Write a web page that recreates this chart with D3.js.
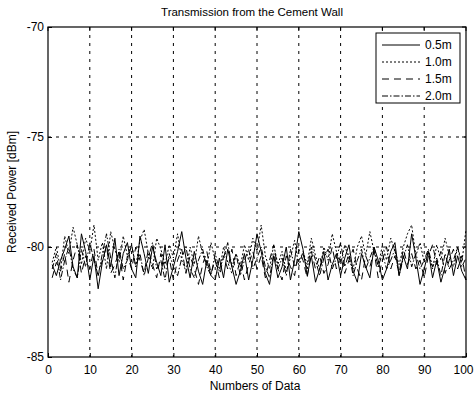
<!DOCTYPE html>
<html>
<head>
<meta charset="utf-8">
<script src="https://cdn.jsdelivr.net/npm/d3@7/dist/d3.min.js"></script>
<style>
  html, body { margin: 0; padding: 0; background: #fff; }
  svg { display: block; font-family: "Liberation Sans", Arial, sans-serif; }
</style>
</head>
<body>
<svg id="chart" width="474" height="396"></svg>
<script>
// Received power measurements behind the cement wall, one series per distance
const seriesNames = ["0.5m", "1.0m", "1.5m", "2.0m"];
const dashes = [null, "2,2", "7,5", "6,2,1.5,2"];

const p05 = [
  -80.8,-81.3,-80.6,-80.1,-79.5,-80.9,-81.4,-79.4,-80.2,-81.5,
  -80.4,-81.9,-80.7,-79.9,-80.9,-79.6,-81.3,-80.3,-79.8,-81.0,
  -81.4,-79.5,-80.3,-81.2,-80.0,-80.7,-81.3,-79.9,-81.6,-80.9,
  -80.2,-79.3,-80.5,-81.4,-80.2,-81.1,-81.7,-80.6,-81.3,-81.5,
  -80.5,-81.4,-80.1,-80.9,-81.7,-81.1,-80.3,-81.5,-80.6,-79.4,
  -80.2,-81.2,-81.7,-80.4,-81.4,-80.9,-80.0,-81.5,-80.6,-79.3,
  -80.1,-81.3,-80.4,-81.6,-81.0,-80.2,-81.5,-80.8,-80.3,-81.3,
  -80.5,-79.9,-81.1,-81.6,-80.3,-80.9,-81.4,-80.0,-80.6,-81.5,
  -81.0,-80.2,-79.8,-81.3,-80.4,-81.0,-79.4,-80.5,-81.7,-81.0,
  -80.2,-81.4,-80.6,-81.6,-80.9,-80.1,-81.3,-80.4,-81.1,-81.5
];
const p10 = [
  -80.7,-80.0,-81.0,-79.5,-80.3,-79.1,-79.9,-80.8,-79.6,-80.2,
  -79.0,-80.6,-79.8,-81.0,-79.3,-80.1,-80.7,-79.5,-80.4,-79.9,
  -80.9,-79.7,-79.2,-80.3,-81.0,-79.6,-80.1,-80.8,-79.9,-80.5,
  -79.4,-80.6,-81.1,-80.0,-80.8,-79.5,-80.3,-80.9,-79.8,-80.6,
  -81.1,-80.0,-80.7,-81.2,-80.3,-80.9,-79.9,-80.6,-79.6,-80.2,
  -79.0,-80.4,-81.0,-79.9,-80.8,-80.2,-81.1,-80.5,-79.7,-80.9,
  -80.2,-80.8,-79.6,-80.4,-81.0,-80.0,-80.6,-79.4,-80.2,-80.8,
  -79.9,-80.6,-81.0,-80.0,-79.5,-80.4,-79.3,-80.2,-80.9,-79.9,
  -80.6,-79.6,-80.2,-80.8,-80.0,-79.4,-79.0,-80.4,-79.8,-80.7,
  -80.2,-81.0,-79.9,-80.6,-79.6,-80.4,-80.9,-80.0,-80.7,-79.2
];
const p15 = [
  -81.4,-80.7,-81.1,-80.3,-81.6,-80.6,-79.9,-81.2,-80.4,-81.0,
  -80.1,-81.3,-80.6,-80.0,-81.2,-80.8,-80.2,-81.5,-80.4,-81.0,
  -80.0,-80.6,-81.2,-80.1,-80.8,-81.4,-80.3,-81.0,-80.5,-81.5,
  -80.6,-80.1,-81.2,-80.4,-81.0,-81.7,-80.8,-80.2,-81.2,-80.6,
  -81.4,-80.4,-81.0,-80.1,-81.3,-80.6,-81.5,-80.8,-80.2,-81.0,
  -80.4,-81.4,-80.6,-79.9,-81.0,-81.5,-80.4,-80.9,-81.3,-80.1,
  -80.6,-81.4,-80.2,-81.0,-80.4,-81.2,-80.8,-80.0,-81.0,-80.4,
  -81.2,-80.6,-80.1,-81.0,-81.5,-80.4,-80.9,-80.2,-81.4,-80.6,
  -80.0,-81.0,-80.4,-81.2,-80.1,-80.8,-80.3,-81.0,-80.6,-81.4,
  -80.4,-79.9,-80.8,-80.2,-81.2,-80.6,-80.1,-81.0,-80.4,-81.5
];
const p20 = [
  -81.0,-80.3,-81.5,-80.6,-80.0,-81.0,-81.4,-80.1,-80.9,-79.8,
  -80.6,-81.3,-80.3,-79.4,-80.5,-81.4,-80.1,-81.0,-80.6,-79.9,
  -80.9,-80.3,-81.3,-80.5,-79.8,-81.0,-80.6,-81.5,-80.3,-80.9,
  -81.3,-80.5,-80.0,-81.0,-81.4,-80.6,-80.1,-80.9,-81.3,-80.3,
  -81.0,-80.5,-79.8,-80.9,-80.3,-81.3,-80.6,-80.1,-81.0,-80.5,
  -80.0,-80.9,-81.4,-80.3,-81.0,-80.5,-81.3,-80.1,-80.9,-80.6,
  -80.3,-81.0,-80.0,-80.6,-81.3,-80.5,-80.1,-81.0,-80.5,-79.8,
  -80.9,-80.3,-81.3,-80.6,-80.1,-81.0,-80.5,-80.0,-80.9,-80.3,
  -81.0,-80.6,-80.1,-81.3,-80.5,-79.9,-80.9,-80.3,-81.0,-80.6,
  -80.1,-80.9,-80.5,-81.3,-80.3,-81.0,-80.6,-80.0,-80.9,-80.5
];
const xTicks = [0, 10, 20, 30, 40, 50, 60, 70, 80, 90, 100];
const yTicks = [-85, -80, -75, -70];

const allSeries = [p05, p10, p15, p20];

const margin = { left: 48, right: 8, top: 27, bottom: 39 };
const W = 474, H = 396;
const iw = W - margin.left - margin.right;
const ih = H - margin.top - margin.bottom;

const svg = d3.select("#chart");
const g = svg.append("g").attr("transform", `translate(${margin.left},${margin.top})`);

const x = d3.scaleLinear().domain([0, 100]).range([0, iw]);
const y = d3.scaleLinear().domain([-85, -70]).range([ih, 0]);

// dashed grid at every inner tick
g.append("g").selectAll("line").data(xTicks.slice(1, -1)).join("line")
  .attr("x1", d => x(d)).attr("x2", d => x(d)).attr("y1", 0).attr("y2", ih)
  .attr("stroke", "#000").attr("stroke-width", 1).attr("stroke-dasharray", "3,5");
g.append("g").selectAll("line").data(yTicks.slice(1, -1)).join("line")
  .attr("x1", 0).attr("x2", iw).attr("y1", d => y(d)).attr("y2", d => y(d))
  .attr("stroke", "#000").attr("stroke-width", 1).attr("stroke-dasharray", "3,5");

// series lines
const line = d3.line().x((d, i) => x(i + 1)).y(d => y(d));
allSeries.forEach((s, k) => {
  g.append("path").datum(s)
    .attr("d", line)
    .attr("fill", "none")
    .attr("stroke", "#000")
    .attr("stroke-width", 1)
    .attr("stroke-dasharray", dashes[k]);
});

// frame
g.append("rect").attr("width", iw).attr("height", ih)
  .attr("fill", "none").attr("stroke", "#000").attr("stroke-width", 1.2);

// axes with inward ticks; hyphen minus signs
const xAxis = d3.axisBottom(x).tickValues(xTicks).tickSizeInner(-4).tickSizeOuter(0).tickPadding(8);
const yAxis = d3.axisLeft(y).tickValues(yTicks).tickSizeInner(-4).tickSizeOuter(0).tickPadding(8)
  .tickFormat(d => String(d));
const gx = g.append("g").attr("transform", `translate(0,${ih})`).call(xAxis);
const gy = g.append("g").call(yAxis);
[gx, gy].forEach(a => {
  a.select(".domain").remove();
  a.selectAll("text").attr("font-size", 12).attr("fill", "#000")
    .attr("font-family", "Liberation Sans, Arial, sans-serif");
});
gy.selectAll("text").attr("dx", 4);
gx.selectAll("text").filter(d => d === 100).attr("dx", -3);
// top and right ticks
g.append("g").selectAll("line").data(xTicks).join("line")
  .attr("x1", d => x(d)).attr("x2", d => x(d)).attr("y1", 0).attr("y2", 4).attr("stroke", "#000");
g.append("g").selectAll("line").data(yTicks).join("line")
  .attr("x1", iw).attr("x2", iw - 4).attr("y1", d => y(d)).attr("y2", d => y(d)).attr("stroke", "#000");

// titles
svg.append("text").attr("x", 252).attr("y", 16)
  .attr("text-anchor", "middle").attr("font-size", 11.5).attr("font-weight", 500)
  .text("Transmission from the Cement Wall");
svg.append("text").attr("x", 255).attr("y", 390)
  .attr("text-anchor", "middle").attr("font-size", 12).text("Numbers of Data");
svg.append("text").attr("transform", `translate(16,${margin.top + ih / 2}) rotate(-90)`)
  .attr("text-anchor", "middle").attr("font-size", 12).text("Received Power [dBm]");

// legend
const lg = g.append("g").attr("transform", `translate(${iw - 90},6)`);
lg.append("rect").attr("width", 84).attr("height", 70)
  .attr("fill", "#fff").attr("stroke", "#000").attr("stroke-width", 1);
seriesNames.forEach((n, k) => {
  const yy = 12 + k * 17;
  lg.append("line").attr("x1", 6).attr("x2", 44).attr("y1", yy).attr("y2", yy)
    .attr("stroke", "#000").attr("stroke-width", 1).attr("stroke-dasharray", dashes[k]);
  lg.append("text").attr("x", 49).attr("y", yy + 4).attr("font-size", 12).text(n);
});
</script>
</body>
</html>
